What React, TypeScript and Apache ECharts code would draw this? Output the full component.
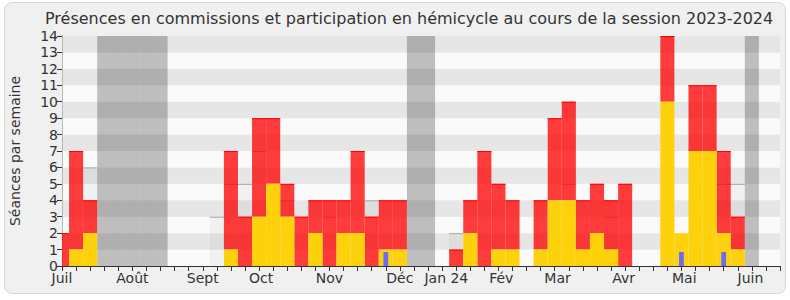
import React, { useEffect, useRef } from "react";
import * as echarts from "echarts";

const titleText =
  "Présences en commissions et participation en hémicycle au cours de la session 2023-2024";
const yAxisName = "Séances par semaine";

// month labels and their positions (in week units from the first week)
const monthLabels = ["Juil", "Août", "Sept", "Oct", "Nov", "Déc", "Jan 24", "Fév", "Mar", "Avr", "Mai", "Juin"];
const monthPositions = [0, 5, 10, 14.15, 19, 24, 27.3, 31.2, 35.2, 39.9, 44.2, 48.9];

// weekly values (52 weeks, index 0 = first week of the session)
const commission = [
  0, 1, 2, 0, 0, 0, 0, 0, 0, 0,
  0, 0, 1, 0, 3, 5, 3, 0, 2, 0,
  2, 2, 0, 1, 1, 0, 0, 0, 0, 2,
  0, 1, 1, 0, 1, 4, 4, 1, 2, 1,
  0, 0, 0, 10, 2, 7, 7, 2, 1, 0,
  0, 0,
];
const hemicycle = [
  2, 6, 2, 0, 0, 0, 0, 0, 0, 0,
  0, 0, 6, 3, 6, 4, 2, 3, 2, 4,
  2, 5, 3, 3, 3, 0, 0, 0, 1, 2,
  7, 4, 3, 0, 3, 5, 6, 3, 3, 3,
  5, 0, 0, 4, 0, 4, 4, 5, 2, 0,
  0, 0,
];
const median = [
  0, 0, 6, 0, 0, 0, 0, 0, 0, 0,
  0, 3, 5, 5, 7, 0, 4, 0, 0, 3,
  0, 0, 4, 0, 0, 0, 0, 0, 2, 0,
  0, 0, 0, 0, 0, 0, 5, 0, 0, 3,
  0, 0, 0, 0, 0, 0, 0, 5, 5, 0,
  0, 0,
];
const questions = [
  0, 0, 0, 0, 0, 0, 0, 0, 0, 0,
  0, 0, 0, 0, 0, 0, 0, 0, 0, 0,
  0, 0, 0, 0.85, 0, 0, 0, 0, 0, 0,
  0, 0, 0, 0, 0, 0, 0, 0, 0, 0,
  0, 0, 0, 0, 0.85, 0, 0, 0.85, 0, 0,
  0, 0,
];
const vacationWeeks = [3, 4, 5, 6, 7, 25, 26, 49];
const yMax = 14;
const lastWeek = 51;

const FONT = "DejaVu Sans";

function clipRect(params: any, api: any, x: number, lo: number, hi: number, halfW: number) {
  const a = api.coord([x - halfW, hi]);
  const b = api.coord([x + halfW, lo]);
  return echarts.graphic.clipRectByRect(
    { x: a[0], y: a[1], width: b[0] - a[0], height: b[1] - a[1] },
    params.coordSys
  );
}

function barRenderer(fill: string, halfW: number, topStroke?: string) {
  return (params: any, api: any) => {
    const x = api.value(0);
    const lo = api.value(1);
    const hi = api.value(2);
    const shape = clipRect(params, api, x, lo, hi, halfW);
    if (!shape) return null;
    const children: any[] = [
      { type: "rect", shape, style: { fill } },
    ];
    if (topStroke) {
      children.push({
        type: "line",
        shape: { x1: shape.x, y1: shape.y + 0.5, x2: shape.x + shape.width, y2: shape.y + 0.5 },
        style: { stroke: topStroke, lineWidth: 1 },
      });
    }
    return { type: "group", children };
  };
}

export default function App() {
  const ref = useRef<HTMLDivElement>(null);

  useEffect(() => {
    if (!ref.current) return;
    const chart = echarts.init(ref.current, null, { renderer: "svg" });

    const vacationData = vacationWeeks.map((w) => [w, 0, yMax]);
    const medianData = median.map((m, i) => [i, 0, m]).filter((d) => d[2] > 0);
    const redData = hemicycle
      .map((h, i) => [i, commission[i], commission[i] + h])
      .filter((d) => d[2] > d[1]);
    const yellowData = commission.map((c, i) => [i, 0, c]).filter((d) => d[2] > 0);
    const blueData = questions.map((q, i) => [i, 0, q]).filter((d) => d[2] > 0);

    const common = {
      type: "custom",
      xAxisIndex: 0,
      yAxisIndex: 0,
      encode: { x: 0, y: [1, 2] },
      silent: true,
    };

    chart.setOption({
      animation: false,
      backgroundColor: "transparent",
      textStyle: { fontFamily: FONT },
      title: {
        text: titleText,
        left: 40,
        top: 5,
        textStyle: { fontFamily: FONT, fontSize: 16, fontWeight: "normal", color: "#333" },
      },
      grid: { left: 61, right: 10, top: 36, bottom: 34, containLabel: false },
      xAxis: [
        {
          type: "value",
          min: 0,
          max: lastWeek,
          interval: 1,
          position: "bottom",
          axisLine: { show: true, lineStyle: { color: "#333", width: 1 } },
          axisTick: { show: true, length: 5, lineStyle: { color: "#333" } },
          splitLine: { show: false },
          axisLabel: {
            customValues: monthPositions,
            formatter: (v: number) => {
              const idx = monthPositions.findIndex((p) => Math.abs(p - v) < 1e-6);
              return idx >= 0 ? monthLabels[idx] : "";
            },
            fontSize: 14,
            color: "#333",
            margin: 5,
            fontFamily: FONT,
          },
        },
        {
          type: "value",
          min: 0,
          max: lastWeek,
          interval: 1,
          position: "top",
          axisLine: { show: false },
          axisTick: { show: true, inside: true, length: 2, lineStyle: { color: "#333" } },
          axisLabel: { show: false },
          splitLine: { show: false },
        },
      ],
      yAxis: [
        {
          type: "value",
          min: 0,
          max: yMax,
          interval: 1,
          name: yAxisName,
          nameLocation: "middle",
          nameGap: 40,
          nameTextStyle: { fontSize: 14, color: "#333", fontFamily: FONT },
          axisLine: { show: true, lineStyle: { color: "#333", width: 1 } },
          axisTick: { show: true, length: 5, lineStyle: { color: "#333" } },
          axisLabel: { fontSize: 14, color: "#333", margin: 4, fontFamily: FONT },
          splitLine: { show: false },
          splitArea: { show: true, areaStyle: { color: ["#fafafa", "#e6e6e6"] } },
        },
        {
          type: "value",
          min: 0,
          max: yMax,
          interval: 1,
          position: "right",
          axisLine: { show: true, lineStyle: { color: "#b8b8b8", width: 1 } },
          axisTick: { show: false },
          axisLabel: { show: false },
          splitLine: { show: false },
        },
      ],
      series: [
        { ...common, name: "vacances", data: vacationData, renderItem: barRenderer("rgba(0,0,0,0.24)", 0.5) },
        { ...common, name: "médiane", data: medianData, renderItem: barRenderer("rgba(0,0,0,0.035)", 0.5, "#a6a6a6") },
        { ...common, name: "hémicycle", data: redData, renderItem: barRenderer("rgba(255,0,0,0.76)", 0.5, "#ff0000") },
        { ...common, name: "commissions", data: yellowData, renderItem: barRenderer("#fdd20c", 0.5) },
        { ...common, name: "questions", data: blueData, renderItem: barRenderer("#6a6aff", 0.17) },
      ],
    });

    return () => {
      chart.dispose();
    };
  }, []);

  return (
    <div style={{ position: "fixed", left: 0, top: 0, width: 790, height: 300, background: "#ffffff" }}>
      <div
        style={{
          position: "absolute",
          left: 4,
          top: 2,
          width: 780,
          height: 290,
          background: "#f0f0f0",
          border: "1px solid #d8d8d8",
          borderRadius: 8,
        }}
      />
      <div ref={ref} style={{ position: "absolute", left: 0, top: 0, width: 790, height: 300 }} />
    </div>
  );
}
